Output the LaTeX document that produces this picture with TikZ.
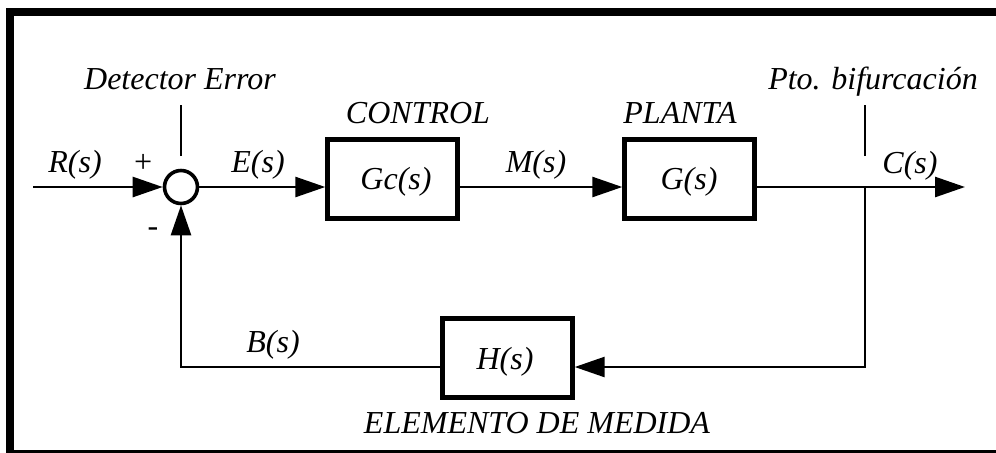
\documentclass[tikz,border=0pt]{standalone}
\usepackage{fontspec}
\setmainfont{Liberation Serif}
\usetikzlibrary{arrows.meta,positioning}
\tikzset{
block/.style={draw, line width=2.2pt, minimum width=65pt, minimum height=39.5pt, inner sep=0pt},
sumnode/.style={circle, draw, line width=1.8pt, minimum size=16.5pt, inner sep=0pt},
lbl/.style={anchor=base, inner sep=0pt, font=\fontsize{16}{18}\selectfont\itshape},
wire/.style={line width=1.3pt},
sig/.style={wire, -{Triangle[length=15pt,width=10pt]}},
}
\begin{document}
\begin{tikzpicture}[x=0.5pt,y=-0.5pt]
\useasboundingbox (0,0) rectangle (996,452);
\clip (0,0) rectangle (996,452);
\draw[line width=4pt] (10,11.5) rectangle (1010,454); % frame
% blocks
\node [sumnode] (sum) at (181,187) {};
\node [block] (gc) at (392.5,179) {};
\node [block] (g) at (689.5,179) {};
\node [block] (h) at (507.5,358) {};
\coordinate (inp) at (33,187);
\coordinate (out) at (965,187);
\coordinate (bif) at (865,187);
\coordinate (fb) at (865,367);
% texts
\node [lbl] (gctxt) at (396,189) {Gc(s)};
\node [lbl] (gtxt) at (689,189) {G(s)};
\node [lbl] (htxt) at (505,369) {H(s)};
\node [lbl] (det) at (180,89) {Detector Error};
\node [lbl] (ctrl) at (418,123) {CONTROL};
\node [lbl] (plan) at (680,123) {PLANTA};
\node [lbl] (pto) at (873,89) {Pto. bifurcación};
\node [lbl] (med) at (537,433) {ELEMENTO DE MEDIDA};
\node [lbl] (rs) at (75,172) {R(s)};
\node [lbl] (es) at (258,172) {E(s)};
\node [lbl] (ms) at (536,172) {M(s)};
\node [lbl] (cs) at (910,173) {C(s)};
\node [lbl] (bs) at (273,352) {B(s)};
\node [lbl] (plus) at (143,172) {+};
\node [lbl] (minus) at (153,236) {-};
% connectors
\draw [sig] (inp) -- (sum);
\draw [sig] (sum) -- (gc.west |- sum);
\draw [sig] (gc.east |- sum) -- (g.west |- sum);
\draw [sig] (g.east |- sum) -- (out);
\draw [sig] (bif) |- (h.east |- fb);
\draw [sig] (h.west |- fb) -| (sum);
\draw [wire] (181,156) -- (181,105);
\draw [wire] (865,156) -- (865,105);
\end{tikzpicture}
\end{document}
